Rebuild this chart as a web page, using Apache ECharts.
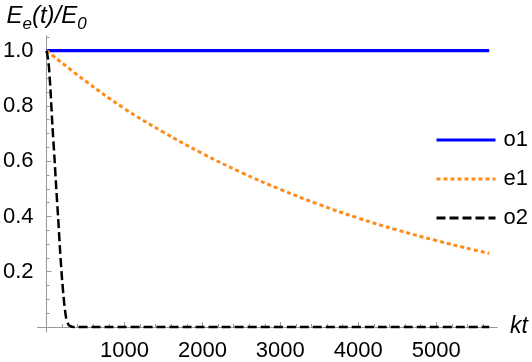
<!DOCTYPE html>
<html>
<head>
<meta charset="utf-8">
<script src="https://cdn.jsdelivr.net/npm/echarts@6/dist/echarts.min.js"></script>
<style>
  html, body {margin: 0; padding: 0; background: #fff;}
  #chart {width: 532px; height: 362px;}
</style>
</head>
<body>
<div id="chart"></div>
<script>
// values
const seriesNames = ['o1', 'e1', 'o2'];

const o1Times = [0, 5680];
const o1Values = [1, 1];

const e1Times = [0, 500, 1000, 1500, 2000, 2500, 3000, 3500, 4000, 4500, 5000, 5500, 5680];
const e1Values = [1.0, 0.89, 0.79, 0.705, 0.628, 0.559, 0.498, 0.443, 0.394, 0.351, 0.313, 0.278, 0.267];

const o2Times = [0, 25, 50, 75, 100, 125, 150, 175, 200, 225, 250, 275, 300, 350, 5680];
const o2Values = [1.0, 0.96, 0.86, 0.73, 0.62, 0.5, 0.39, 0.27, 0.17, 0.09, 0.035, 0.012, 0.004, 0, 0];

const xTickValues = [1000, 2000, 3000, 4000, 5000];
const xMinorValues = [200, 400, 600, 800, 1200, 1400, 1600, 1800, 2200, 2400, 2600, 2800,
  3200, 3400, 3600, 3800, 4200, 4400, 4600, 4800, 5200, 5400, 5600];
const yTickValues = [0.2, 0.4, 0.6, 0.8, 1.0];
const yMinorValues = [0.05, 0.1, 0.15, 0.25, 0.3, 0.35, 0.45, 0.5, 0.55, 0.65, 0.7, 0.75,
  0.85, 0.9, 0.95, 1.05];

const font = '"Liberation Sans", Arial, sans-serif';
const axisGrey = '#999';

const pairs = (ts, vs) => ts.map((t, i) => [t, vs[i]]);

const xRange = {min: -115, max: 5780};
const yRange = {min: -0.018, max: 1.053};

const chart = echarts.init(document.getElementById('chart'));

chart.setOption({
  animation: false,
  backgroundColor: '#fff',
  grid: {left: 37, right: 35, top: 36, bottom: 25, containLabel: false},
  xAxis: [{
    type: 'value', ...xRange, position: 'bottom',
    axisLine: {onZero: true, onZeroAxisIndex: 0, lineStyle: {color: axisGrey, width: 1}},
    axisTick: {inside: true, length: 5, customValues: xTickValues, lineStyle: {color: axisGrey}},
    axisLabel: {
      customValues: xTickValues, fontSize: 22, color: '#000', fontFamily: font, margin: 8,
      formatter: v => String(v)
    },
    splitLine: {show: false},
    name: 'kt', nameLocation: 'end', nameGap: 13,
    nameTextStyle: {fontSize: 23, fontStyle: 'italic', color: '#000', fontFamily: font}
  }, {
    type: 'value', ...xRange, position: 'bottom',
    axisLine: {onZero: true, onZeroAxisIndex: 0, lineStyle: {color: axisGrey, width: 1}},
    axisTick: {inside: true, length: 3, customValues: xMinorValues, lineStyle: {color: axisGrey}},
    axisLabel: {show: false},
    splitLine: {show: false}
  }],
  yAxis: [{
    type: 'value', ...yRange, position: 'left',
    axisLine: {show: true, onZero: true, onZeroAxisIndex: 0, lineStyle: {color: axisGrey, width: 1}},
    axisTick: {show: true, inside: true, length: 5, customValues: yTickValues, lineStyle: {color: axisGrey}},
    axisLabel: {
      customValues: yTickValues, fontSize: 22, color: '#000', fontFamily: font, margin: 4,
      formatter: v => v.toFixed(1)
    },
    splitLine: {show: false},
    name: '{i|E}{s|e}{i|(t)/E}{s|0}', nameLocation: 'end', nameGap: 8,
    nameTextStyle: {
      align: 'center',
      rich: {
        i: {fontSize: 24, fontStyle: 'italic', color: '#000', fontFamily: font, lineHeight: 28, verticalAlign: 'bottom'},
        s: {fontSize: 17, fontStyle: 'italic', color: '#000', fontFamily: font, lineHeight: 28, verticalAlign: 'bottom', padding: [0, 0, -5, 0]}
      }
    }
  }, {
    type: 'value', ...yRange, position: 'left',
    axisLine: {show: true, onZero: true, onZeroAxisIndex: 0, lineStyle: {color: axisGrey, width: 1}},
    axisTick: {show: true, inside: true, length: 3, customValues: yMinorValues, lineStyle: {color: axisGrey}},
    axisLabel: {show: false},
    splitLine: {show: false}
  }],
  legend: {
    orient: 'vertical', left: 430, top: 124,
    itemWidth: 59, itemHeight: 14, itemGap: 17,
    data: seriesNames,
    itemStyle: {opacity: 0},
    lineStyle: {width: 3},
    textStyle: {fontSize: 22, color: '#000', fontFamily: font, padding: [0, 0, 0, 3]}
  },
  series: [{
    name: 'o1', type: 'line', data: pairs(o1Times, o1Values),
    showSymbol: false, symbol: 'none',
    lineStyle: {color: '#0000ff', width: 3.2}, itemStyle: {color: '#0000ff'}
  }, {
    name: 'e1', type: 'line', data: pairs(e1Times, e1Values),
    showSymbol: false, symbol: 'none', smooth: 0.4,
    lineStyle: {color: '#ff8c1a', width: 3, type: [4, 3]}, itemStyle: {color: '#ff8c1a'}
  }, {
    name: 'o2', type: 'line', data: pairs(o2Times, o2Values),
    showSymbol: false, symbol: 'none', smooth: 0.25,
    lineStyle: {color: '#000', width: 2.5, type: [9, 4]}, itemStyle: {color: '#000'}
  }]
});
</script>
</body>
</html>
